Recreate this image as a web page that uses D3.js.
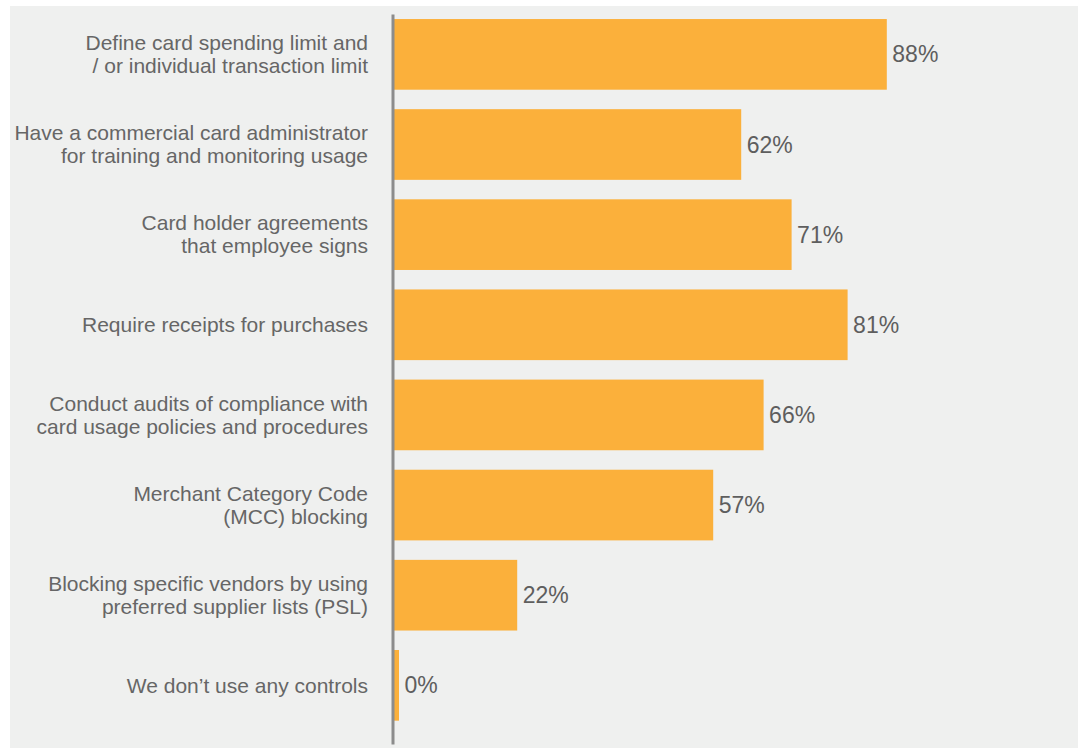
<!DOCTYPE html>
<html>
<head>
<meta charset="utf-8">
<script src="https://cdn.jsdelivr.net/npm/d3@7"></script>
<style>
  html, body { margin: 0; padding: 0; background: #ffffff; }
  svg { display: block; }
  text { font-family: "Liberation Sans", Arial, Helvetica, sans-serif; }
</style>
</head>
<body>
<svg id="chart" width="1078" height="748"></svg>
<script>
// Card control practices: share of respondents (%)
const categories = [
  ["Define card spending limit and", "/ or individual transaction limit"],
  ["Have a commercial card administrator", "for training and monitoring usage"],
  ["Card holder agreements", "that employee signs"],
  ["Require receipts for purchases"],
  ["Conduct audits of compliance with", "card usage policies and procedures"],
  ["Merchant Category Code", "(MCC) blocking"],
  ["Blocking specific vendors by using", "preferred supplier lists (PSL)"],
  ["We don\u2019t use any controls"]
];
const values = [88, 62, 71, 81, 66, 57, 22, 0];

const W = 1078, H = 748;
const svg = d3.select("#chart");

// panel background
svg.append("rect")
  .attr("x", 10).attr("y", 6)
  .attr("width", W - 10).attr("height", H - 6)
  .attr("fill", "#eff0ef");

const ids = d3.range(values.length);
const x = d3.scaleLinear().domain([0, 100]).range([394, 954]);
const y = d3.scaleBand().domain(ids).range([9.3, 730.4])
  .paddingInner(0.216).paddingOuter(0.108);

const minBar = 5; // keeps a zero value visible as a thin sliver

// bars
svg.append("g").selectAll("rect")
  .data(ids)
  .join("rect")
  .attr("x", x(0))
  .attr("y", i => y(i))
  .attr("width", i => Math.max(x(values[i]) - x(0), minBar))
  .attr("height", y.bandwidth())
  .attr("fill", "#fbb03b");

// value labels
svg.append("g").selectAll("text")
  .data(ids)
  .join("text")
  .attr("x", i => x(0) + Math.max(x(values[i]) - x(0), minBar) + 5.5)
  .attr("y", i => y(i) + y.bandwidth() / 2 + 8)
  .attr("font-size", 23)
  .attr("fill", "#5e5e5e")
  .text(i => values[i] + "%");

// category labels, right aligned against the axis
const lineH = 23;
const labels = svg.append("g").selectAll("text")
  .data(ids)
  .join("text")
  .attr("text-anchor", "end")
  .attr("font-size", 21)
  .attr("fill", "#666666");

labels.each(function(i) {
  const lines = categories[i];
  const cy = y(i) + y.bandwidth() / 2;
  const first = cy - (lines.length - 1) * lineH / 2 + 7.3;
  d3.select(this).selectAll("tspan")
    .data(lines)
    .join("tspan")
    .attr("x", 368)
    .attr("y", (d, k) => first + k * lineH)
    .text(d => d);
});

// vertical axis line
const yAxis = d3.axisLeft(d3.scaleLinear().range([14, 744]))
  .ticks(0).tickSize(0).tickFormat("");
const ag = svg.append("g")
  .attr("transform", `translate(${392.5},0)`)
  .call(yAxis);
ag.select(".domain")
  .attr("stroke", "#8c8c8c")
  .attr("stroke-width", 3);
</script>
</body>
</html>
